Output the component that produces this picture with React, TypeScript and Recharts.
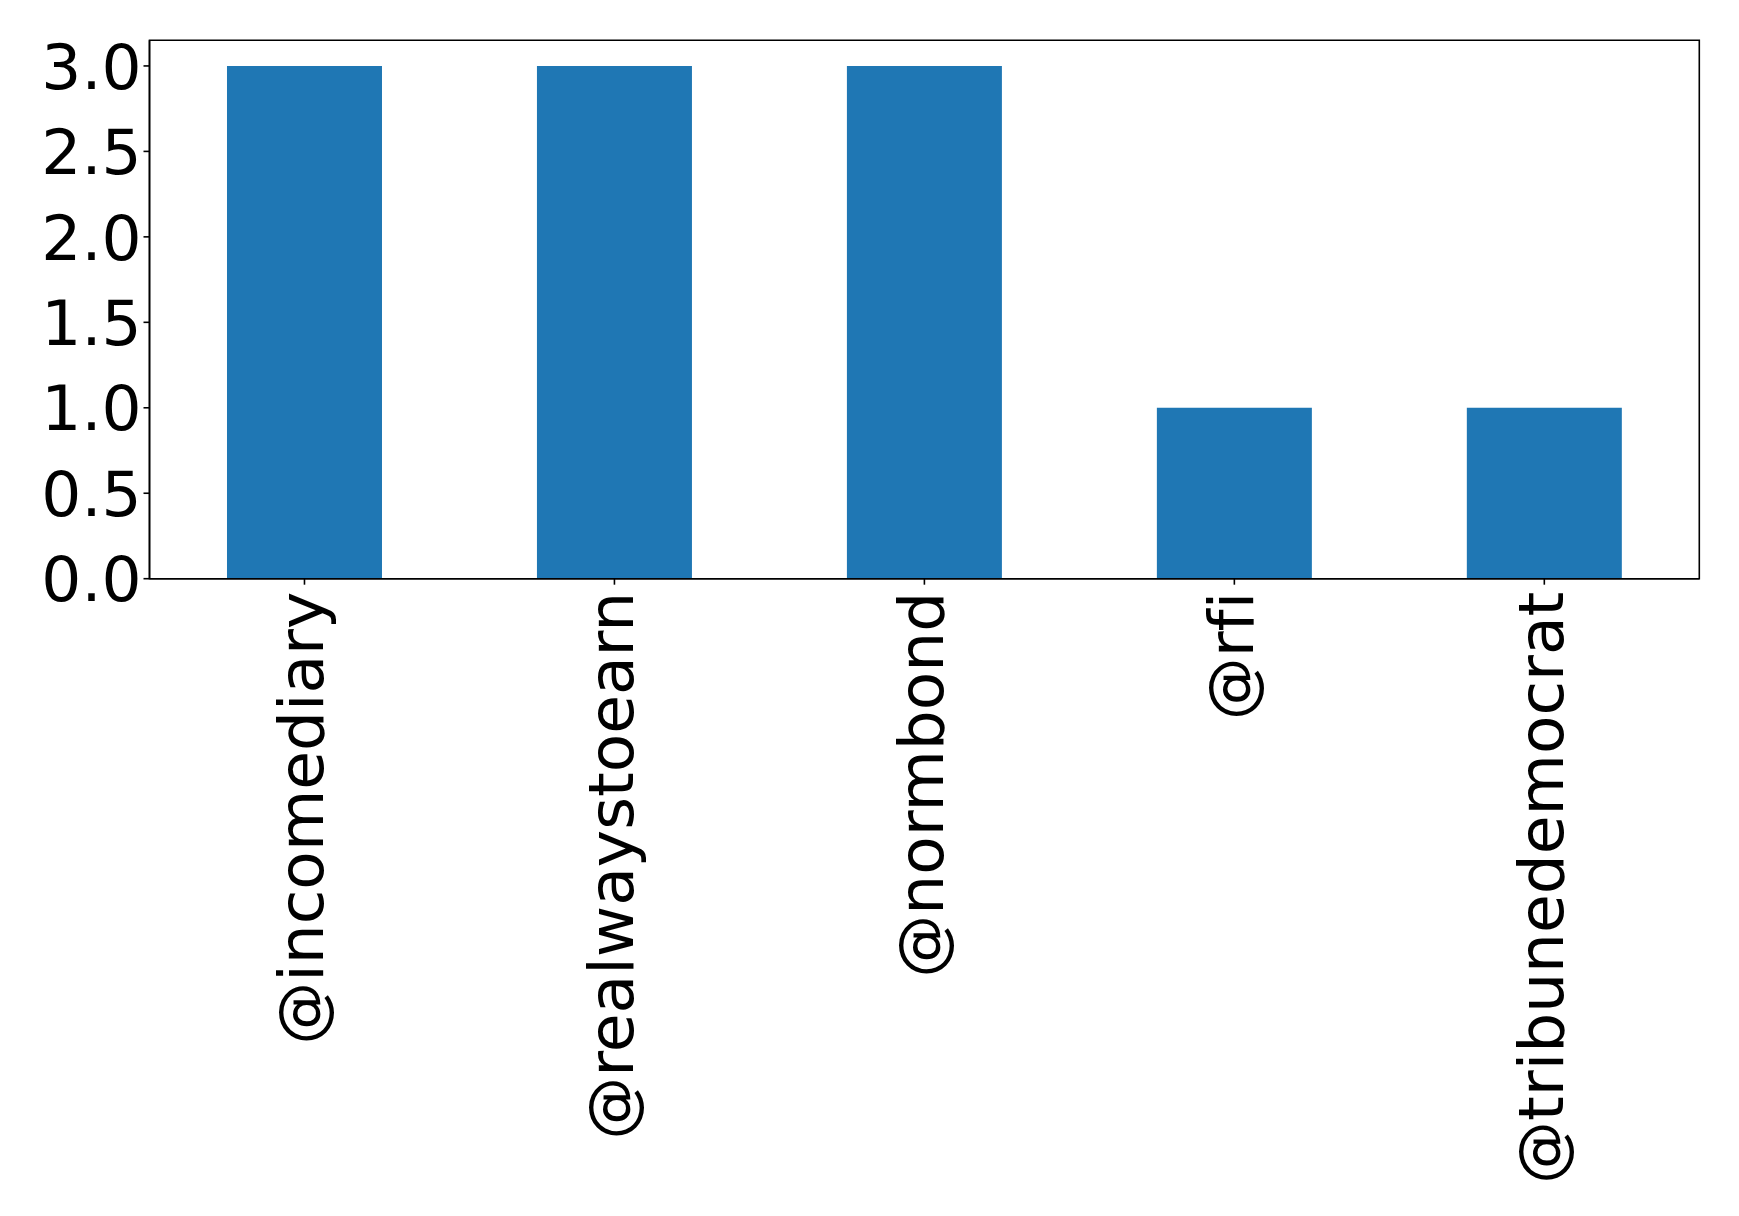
import { BarChart, Bar, XAxis, YAxis, ReferenceArea } from "recharts";

const accounts = [
  "@incomediary",
  "@realwaystoearn",
  "@normbond",
  "@rfi",
  "@tribunedemocrat",
];
const counts = [3, 3, 3, 1, 1];
const yTicks = [0, 0.5, 1, 1.5, 2, 2.5, 3];
const Y_MAX = 3.15;

const chartData = accounts.map((name, i) => ({ name, count: counts[i] }));

const FONT = "DejaVu Sans";
const FONT_SIZE = 63;

function XTick({ x, y, payload }: any) {
  return (
    <text
      x={x}
      y={y}
      dy="0.3em"
      textAnchor="end"
      transform={`rotate(-90, ${x}, ${y})`}
      fontFamily={FONT}
      fontSize={FONT_SIZE}
      fill="#000"
      style={{ fontVariantLigatures: "none" }}
    >
      {payload.value}
    </text>
  );
}

function YTick({ x, y, payload }: any) {
  return (
    <text
      x={x}
      y={y}
      dy="0.36em"
      textAnchor="end"
      fontFamily={FONT}
      fontSize={FONT_SIZE}
      fill="#000"
    >
      {Number(payload.value).toFixed(1)}
    </text>
  );
}

export default function App() {
  const axisLine = { stroke: "#000", strokeWidth: 1.6 };
  const tickLine = { stroke: "#000", strokeWidth: 1.6 };

  return (
    <div style={{ position: "absolute", left: 0, top: 0, background: "#fff" }}>
      <BarChart
        width={1739}
        height={1216}
        data={chartData}
        barCategoryGap="25%"
        margin={{ top: 40.3, right: 39.7, bottom: 37.3, left: 9.5 }}
      >
        <XAxis
          dataKey="name"
          height={600}
          interval={0}
          tickSize={6}
          tickMargin={7}
          tick={<XTick />}
          tickLine={tickLine}
          axisLine={axisLine}
        />
        <YAxis
          width={140}
          domain={[0, Y_MAX]}
          ticks={yTicks}
          allowDataOverflow
          tickSize={6}
          tickMargin={2}
          tick={<YTick />}
          tickLine={tickLine}
          axisLine={axisLine}
        />

        <Bar dataKey="count" fill="#1f77b4" isAnimationActive={false} />

        {/* axes frame */}
        <ReferenceArea
          y1={0}
          y2={Y_MAX}
          fill="none"
          fillOpacity={0}
          stroke="#000"
          strokeWidth={1.6}
          ifOverflow="visible"
        />
      </BarChart>
    </div>
  );
}
